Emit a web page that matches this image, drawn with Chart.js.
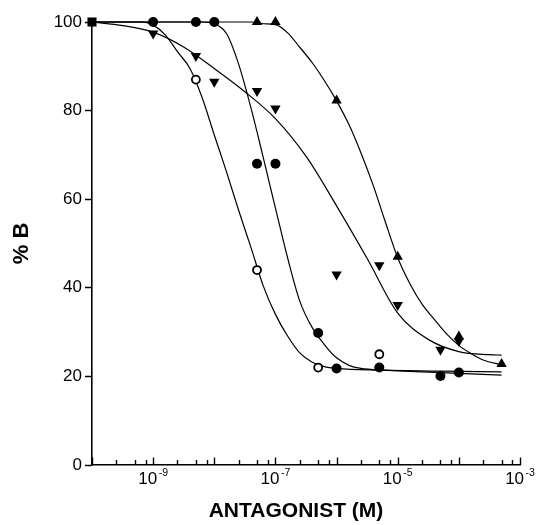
<!DOCTYPE html>
<html>
<head>
<meta charset="utf-8">
<title>% B vs antagonist concentration</title>
<script src="https://cdn.jsdelivr.net/npm/chart.js@4.4.1/dist/chart.umd.min.js"></script>
<style>
  html, body { margin: 0; padding: 0; background: #fff; }
  #chart { display: block; }
</style>
</head>
<body>
<canvas id="chart" width="539" height="525"></canvas>
<script>
// values: concentration (M) and % B

// control point (all series start here)
const controlX = [1e-10];
const controlY = [100];

// open circles
const openX = [5e-9, 5e-8, 5e-7, 5e-6];
const openY = [87, 44, 22, 25];
const openFitX = [1e-10, 6.3e-10, 1e-9, 1.6e-9, 2.5e-9, 4e-9, 6.3e-9, 1e-8, 1.6e-8, 2.5e-8, 4e-8, 6.3e-8, 1e-7, 1.6e-7, 2.5e-7, 4e-7, 6.3e-7, 1e-6, 5e-6, 5e-5, 5e-4];
const openFitY = [100, 100, 99.3, 97, 93.3, 89.5, 83, 74.5, 66, 57.5, 49, 40.5, 34, 29, 25.3, 23.2, 22.2, 21.8, 21.4, 21.2, 21];

// filled circles
const fillX = [1e-9, 5e-9, 1e-8, 5e-8, 1e-7, 5e-7, 1e-6, 5e-6, 5e-5, 1e-4];
const fillY = [100, 100, 100, 68, 68, 29.8, 21.8, 22, 20.1, 20.9];
const fillFitX = [1e-10, 6.3e-9, 1e-8, 1.6e-8, 2.5e-8, 4e-8, 6.3e-8, 1e-7, 1.6e-7, 2.5e-7, 4e-7, 6.3e-7, 1e-6, 1.6e-6, 2.5e-6, 6.3e-6, 6.3e-5, 5e-4];
const fillFitY = [100, 100, 99.6, 97.3, 90.5, 80.5, 69.5, 58, 46.5, 37, 31, 27.2, 24.2, 22.5, 21.8, 21.4, 20.8, 20.3];

// down triangles
const downX = [1e-9, 5e-9, 1e-8, 5e-8, 1e-7, 1e-6, 5e-6, 1e-5, 5e-5, 1e-4];
const downY = [97.4, 92.3, 86.5, 84.4, 80.5, 43, 45.1, 36.1, 26, 28];
const downFitX = [1e-10, 3.2e-10, 1e-9, 3.2e-9, 1e-8, 3.2e-8, 1e-7, 3.2e-7, 1e-6, 3.2e-6, 1e-5, 3.2e-5, 1e-4, 3.2e-4, 5e-4];
const downFitY = [100, 99.2, 97.7, 94.3, 89.5, 84.2, 78.2, 69.6, 58.5, 46.5, 34.3, 28.3, 25.6, 24.9, 24.8];

// up triangles
const upX = [5e-8, 1e-7, 1e-6, 1e-5, 1e-4, 5e-4];
const upY = [100, 100, 82.3, 47, 29, 22.8];
const upFitX = [1e-10, 4e-8, 6.3e-8, 1e-7, 1.6e-7, 2.5e-7, 4e-7, 6.3e-7, 1e-6, 1.6e-6, 2.5e-6, 4e-6, 6.3e-6, 1e-5, 1.6e-5, 2.5e-5, 4e-5, 6.3e-5, 1e-4, 1.6e-4, 2.5e-4, 5e-4];
const upFitY = [100, 100, 99.6, 99.4, 97.5, 94.3, 90.8, 86.8, 82.2, 76.8, 70.5, 63, 54.8, 46.8, 40.8, 36.3, 32.8, 29.6, 27, 25.1, 23.7, 22.6];

// axis ticks
const yTicks = [0, 20, 40, 60, 80, 100];
const xDecades = [-10, -9, -8, -7, -6, -5, -4, -3];
const xMinorSteps = [2.5, 5, 7.5];
const xLabelExponents = [-9, -7, -5, -3];

const FONT = '"Liberation Sans", Arial, Helvetica, sans-serif';

function pts(xs, ys) {
  return xs.map((v, i) => ({ x: v, y: ys[i] }));
}

function markers(label, xs, ys, style) {
  return Object.assign({
    label: label,
    data: pts(xs, ys),
    showLine: false,
    clip: false,
    pointBackgroundColor: '#000',
    pointBorderColor: '#000',
    pointBorderWidth: 0
  }, style);
}

function fitLine(label, xs, ys) {
  return {
    label: label,
    data: pts(xs, ys),
    showLine: true,
    clip: false,
    borderColor: '#000',
    borderWidth: 1.2,
    pointRadius: 0,
    cubicInterpolationMode: 'monotone',
    fill: false
  };
}

// x axis: inward ticks, 10^n labels and the title
const xAxisDecor = {
  id: 'xAxisDecor',
  afterDraw(chart) {
    const ctx = chart.ctx;
    const x = chart.scales.x;
    const base = x.top;
    ctx.save();
    ctx.strokeStyle = '#000';
    ctx.lineWidth = 1.4;
    x.ticks.forEach(t => {
      const px = Math.round(x.getPixelForValue(t.value)) + 0.5;
      const len = t.major ? 7.5 : 5;
      ctx.beginPath();
      ctx.moveTo(px, base);
      ctx.lineTo(px, base - len);
      ctx.stroke();
    });

    ctx.fillStyle = '#000';
    ctx.textAlign = 'left';
    ctx.textBaseline = 'alphabetic';
    const baseFont = '17px ' + FONT;
    const expFont = '10.5px ' + FONT;
    xLabelExponents.forEach(e => {
      const px = x.getPixelForValue(Math.pow(10, e));
      const sup = String(e);
      ctx.font = baseFont;
      const w1 = ctx.measureText('10').width;
      ctx.font = expFont;
      const w2 = ctx.measureText(sup).width;
      const start = px - (w1 + 1.5 + w2) / 2;
      ctx.font = baseFont;
      ctx.fillText('10', start, base + 19);
      ctx.font = expFont;
      ctx.fillText(sup, start + w1 + 1.5, base + 10.5);
    });

    ctx.font = 'bold 21px ' + FONT;
    ctx.textAlign = 'center';
    ctx.textBaseline = 'middle';
    ctx.fillText('ANTAGONIST (M)', (x.left + x.right) / 2 - 10, base + 46);
    ctx.restore();
  }
};

new Chart(document.getElementById('chart'), {
  type: 'scatter',
  data: {
    datasets: [
      markers('control', controlX, controlY, { pointStyle: 'rect', pointRadius: 6.4 }),
      markers('filled circles', fillX, fillY, { pointStyle: 'circle', pointRadius: 5 }),
      markers('open circles', openX, openY, {
        pointStyle: 'circle', pointRadius: 4,
        pointBackgroundColor: '#fff', pointBorderWidth: 1.8
      }),
      markers('down triangles', downX, downY, { pointStyle: 'triangle', pointRotation: 180, pointRadius: 6 }),
      markers('up triangles', upX, upY, { pointStyle: 'triangle', pointRadius: 6 }),
      fitLine('open fit', openFitX, openFitY),
      fitLine('filled fit', fillFitX, fillFitY),
      fitLine('down fit', downFitX, downFitY),
      fitLine('up fit', upFitX, upFitY)
    ]
  },
  options: {
    responsive: false,
    animation: false,
    events: [],
    devicePixelRatio: 1,
    layout: { padding: { top: 22, right: 19, left: 0, bottom: 0 } },
    plugins: {
      legend: { display: false },
      tooltip: { enabled: false }
    },
    scales: {
      x: {
        type: 'logarithmic',
        min: 1e-10,
        max: 1e-3,
        afterBuildTicks(scale) {
          const ticks = [];
          xDecades.forEach(e => {
            const v = Math.pow(10, e);
            ticks.push({ value: v, major: true });
            if (e < -3) xMinorSteps.forEach(m => ticks.push({ value: m * v, major: false }));
          });
          scale.ticks = ticks;
        },
        afterFit(scale) { scale.height = 60; },
        ticks: { display: false },
        grid: { display: true, drawOnChartArea: false, drawTicks: false },
        border: { display: true, color: '#000', width: 1.6 }
      },
      y: {
        min: 0,
        max: 100,
        afterBuildTicks(scale) {
          scale.ticks = yTicks.map(v => ({ value: v }));
        },
        afterFit(scale) { scale.width = 92; },
        ticks: {
          color: '#000',
          padding: 3,
          font: { family: FONT, size: 17 }
        },
        grid: {
          drawOnChartArea: false,
          drawTicks: true,
          tickLength: 7,
          tickColor: '#000',
          tickWidth: 1.5
        },
        border: { display: true, color: '#000', width: 1.6 },
        title: {
          display: true,
          text: '% B',
          color: '#000',
          padding: { top: 9, bottom: 0 },
          font: { family: FONT, size: 22, weight: 'bold' }
        }
      }
    }
  },
  plugins: [xAxisDecor]
});
</script>
</body>
</html>
